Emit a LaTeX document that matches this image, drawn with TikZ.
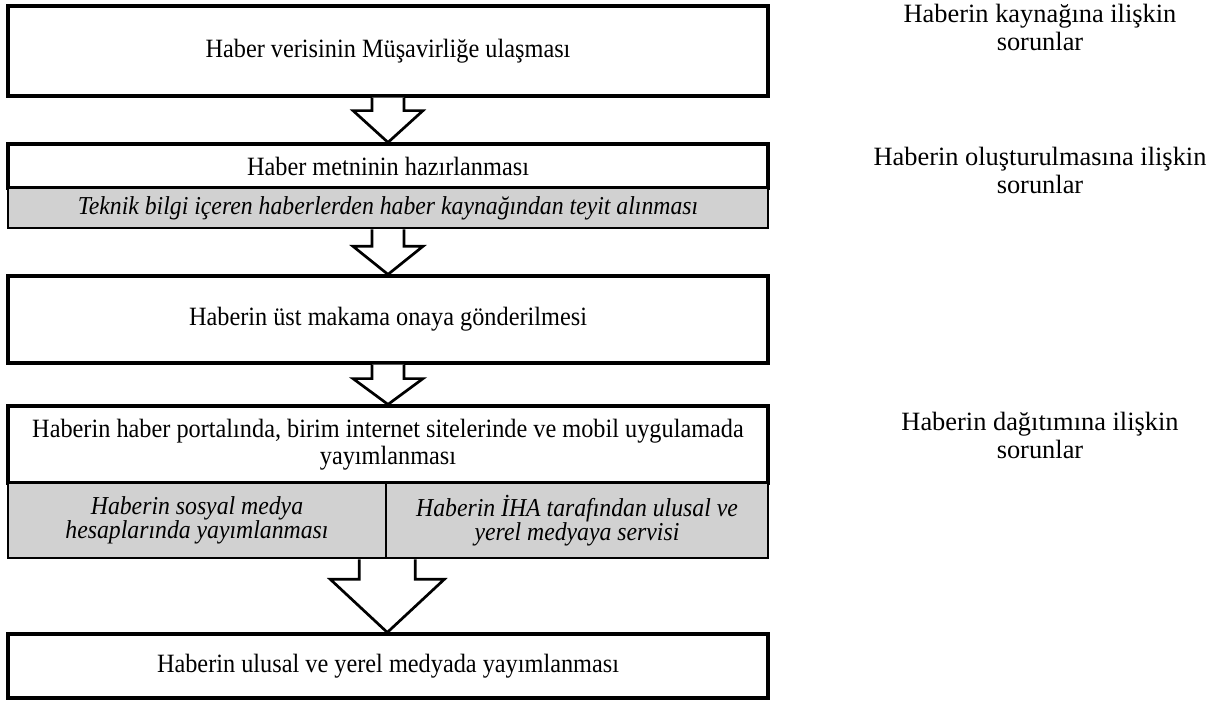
\documentclass[tikz,border=0pt]{standalone}
\usepackage{fontspec}
\setmainfont{Liberation Serif}
\newfontfamily\boxfont[FakeStretch=0.92]{Liberation Serif}
\usepackage{xcolor}
\usepackage{tikz}
\usetikzlibrary{positioning,calc}

\definecolor{panelgray}{RGB}{209,209,209}

% #1 start point, #2 tip point, #3 shaft length, #4 shaft half width, #5 head half width
\newcommand{\fatarrow}[5]{%
  \draw[hollow] ($#1+(-#4,0)$) -- ($#1+(-#4,#3)$) -- ($#1+(-#5,#3)$) -- #2
    -- ($#1+(#5,#3)$) -- ($#1+(#4,#3)$) -- ($#1+(#4,0)$);}

\begin{document}
\begin{tikzpicture}[x=0.5pt, y=-0.5pt,
    every node/.style={font=\boxfont\fontsize{13.2}{13.5}\selectfont},
    box/.style={rectangle, draw, line width=1.6pt, fill=white, minimum width=380pt, inner sep=1pt, align=center},
    subbox/.style={box, fill=panelgray, line width=1.3pt, font=\boxfont\fontsize{12.9}{12}\selectfont\itshape},
    note/.style={align=center, font=\rmfamily\fontsize{13.2}{14}\selectfont},
    hollow/.style={draw, fill=white, line width=1.35pt, line join=miter}
]
\useasboundingbox (0,0) rectangle (1220,702);

% Boxes
\node[box, minimum height=45pt] (verisi) at (388,51) {Haber verisinin Müşavirliğe ulaşması};
\node[box, minimum height=22pt] (metin) at (388,166) {Haber metninin hazırlanması};
\node[subbox, minimum height=20pt] (teyit) at (388,208) {Teknik bilgi içeren haberlerden haber kaynağından teyit alınması};
\node[box, minimum height=43.5pt] (onay) at (388,319.5) {Haberin üst makama onaya gönderilmesi};
\node[box, minimum height=38.5pt] (portal) at (388,444.5) {Haberin haber portalında, birim internet sitelerinde ve mobil uygulamada\\yayımlanması};
\node[subbox, minimum width=189pt, minimum height=37.5pt] (sosyal) at (197,520.5) {Haberin sosyal medya\\hesaplarında yayımlanması};
\node[subbox, minimum width=191pt, minimum height=37.5pt] (iha) at (577,520.5) {Haberin İHA tarafından ulusal ve\\yerel medyaya servisi};
\node[box, minimum height=32pt] (ulusal) at (388,666) {Haberin ulusal ve yerel medyada yayımlanması};

% Problem notes
\node[note] (kaynak) at (1040,27) {Haberin kaynağına ilişkin\\sorunlar};
\node[note] (olustur) at (1040,170) {Haberin oluşturulmasına ilişkin\\sorunlar};
\node[note] (dagitim) at (1040,435) {Haberin dağıtımına ilişkin\\sorunlar};

% Arrows
\fatarrow{(verisi.south)}{(metin.north)}{13}{16}{35}
\fatarrow{(teyit.south)}{(onay.north)}{17}{16}{35}
\fatarrow{(onay.south)}{(portal.north)}{14}{16}{35}
\fatarrow{(sosyal.south east)}{(sosyal.south east |- ulusal.north)}{20}{28}{57}

\end{tikzpicture}
\end{document}
